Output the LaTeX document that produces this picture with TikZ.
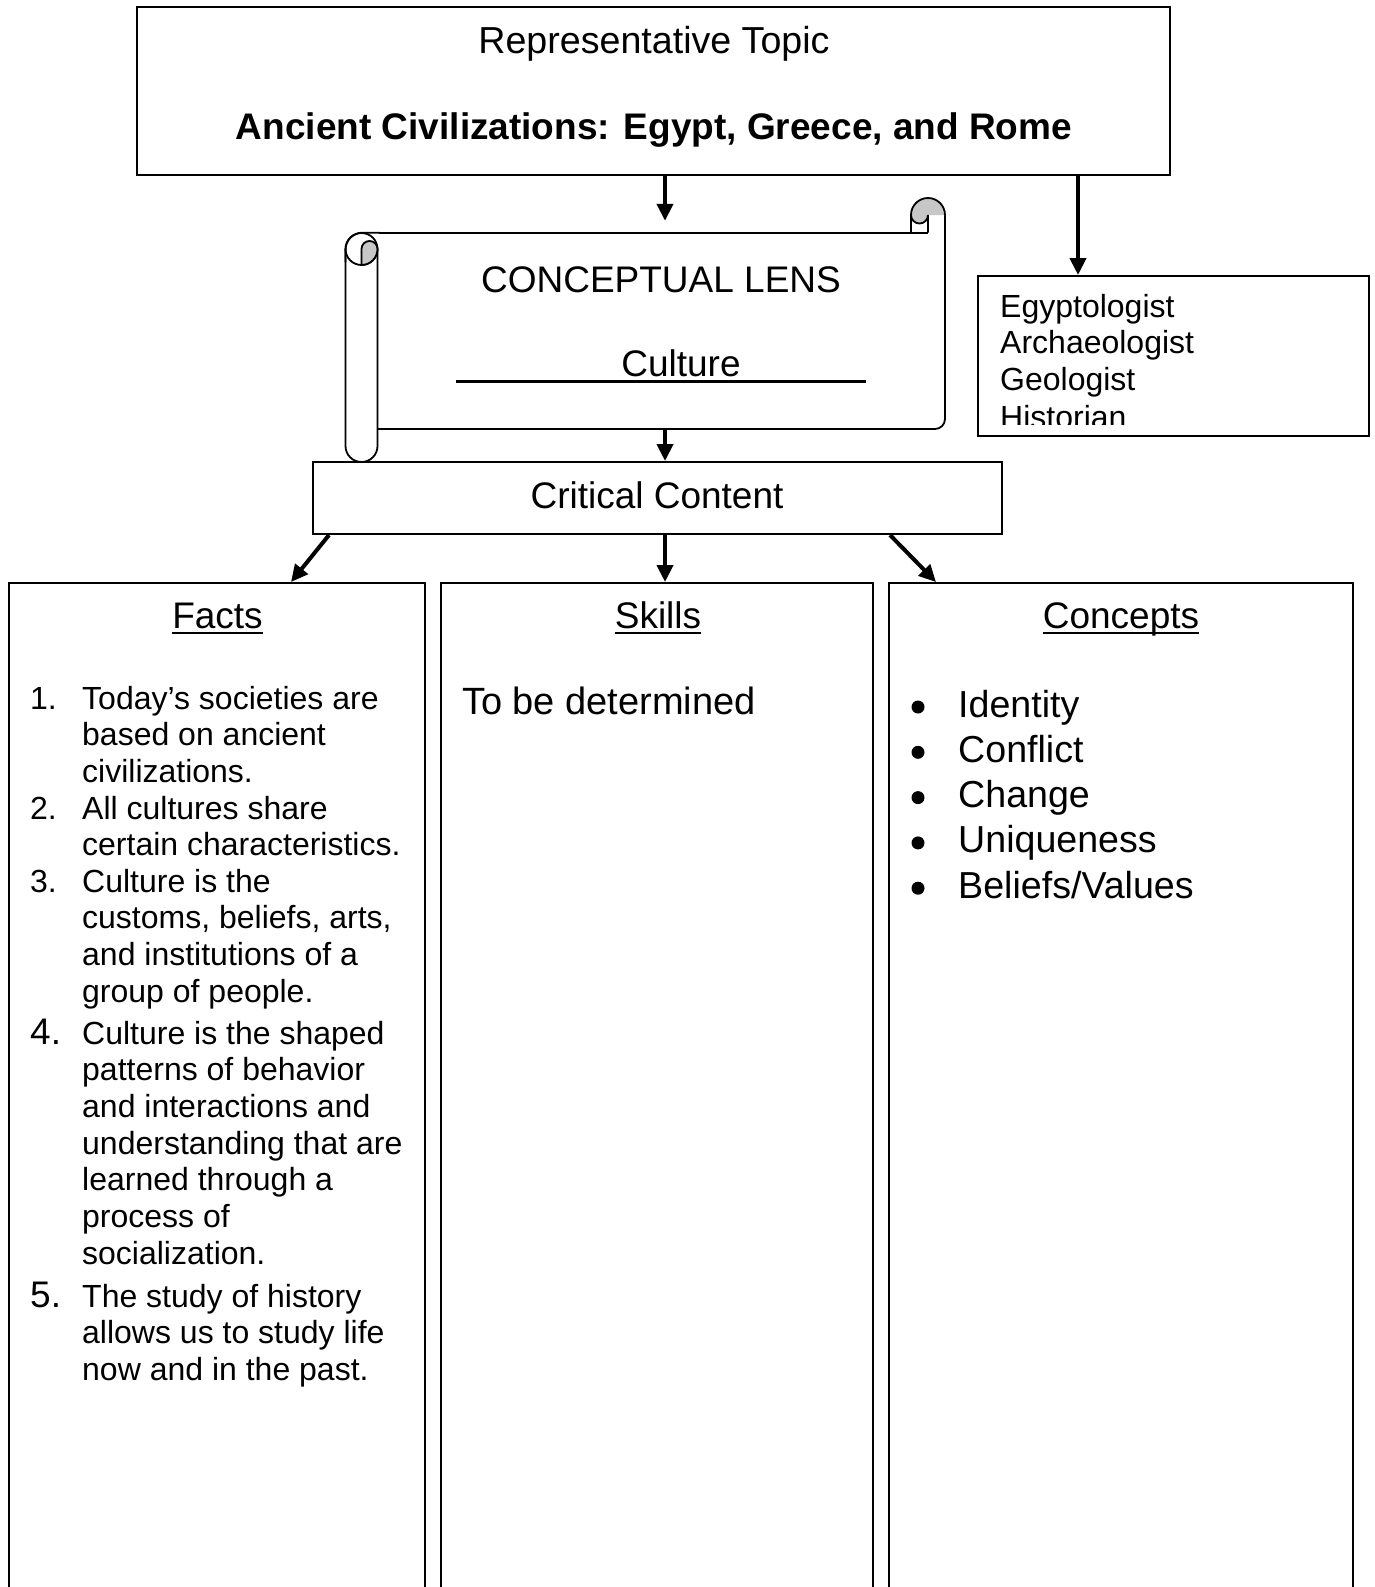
\documentclass[tikz,border=0pt]{standalone}
\usepackage{fontspec}
\setmainfont{Liberation Sans}
\usetikzlibrary{arrows.meta}
\begin{document}
\begin{tikzpicture}[x=1pt,y=-1pt,
  box/.style={draw, line width=2pt, inner sep=0pt},
  arr/.style={line width=4pt, -{Triangle[length=17pt,width=16pt]}},
  txt/.style={inner sep=0pt, anchor=base},
  ft/.style={inner sep=0pt, anchor=base west, align=left, font=\fontsize{32}{36.7}\selectfont},
  bignum/.style={inner sep=0pt, anchor=base west, font=\fontsize{37}{42}\selectfont},
  f37/.style={font=\fontsize{37}{42}\selectfont},
  f38/.style={font=\fontsize{38}{43}\selectfont},
  f32/.style={font=\fontsize{32}{36.7}\selectfont},
  scrollline/.style={line width=1.8pt},
  curl/.style={fill=black!22},
]
\useasboundingbox (0,0) rectangle (1375,1587);
\clip (0,0) rectangle (1375,1587);

% ---------- boxes ----------
\node[box, minimum width=1033pt, minimum height=168pt] (topic) at (653.5,91) {};
\node[box, minimum width=391pt, minimum height=160pt] (roles) at (1173.5,356) {};
\node[box, minimum width=689pt, minimum height=72pt] (crit) at (657.5,498) {};
\node[box, minimum width=416pt, minimum height=1040pt] (facts) at (217,1103) {};
\node[box, minimum width=432pt, minimum height=1040pt] (skills) at (657,1103) {};
\node[box, minimum width=464pt, minimum height=1040pt] (concepts) at (1121,1103) {};
% invisible frame of scroll body
\node[inner sep=0pt, minimum width=568pt, minimum height=197pt] (lens) at (661,330.5) {};

% ---------- scroll ----------
% body top edge and outer top-left corner of the roll
\draw[scrollline, rounded corners=17pt] (345.5,262) -- (345.5,232.7) -- (380,232.7);
\draw[scrollline] (379,232.7) -- (928,232.7);
% right edge and bottom edge
\draw[scrollline, rounded corners=10pt] (945,215) -- (945,429) -- (377.5,429);
% left roll sides and bottom
\draw[scrollline] (345.5,249) -- (345.5,446) arc[start angle=180, end angle=0, radius=16] -- (377.5,249);
% left roll top curl
\draw[scrollline] (361.5,249) circle[radius=16];
\filldraw[curl, scrollline] (361.5,265) -- (361.5,249) arc[start angle=180, end angle=360, radius=8]
   arc[start angle=0, end angle=90, radius=16] -- cycle;
% top right curl
\fill[curl] (911,215) arc[start angle=180, end angle=360, radius=17] -- (928,215)
   arc[start angle=0, end angle=180, radius=8.5] -- cycle;
\draw[scrollline] (911,232.7) -- (911,215) arc[start angle=180, end angle=360, radius=17];
\draw[scrollline] (928,232.7) -- (928,215) arc[start angle=0, end angle=180, radius=8.5];

% ---------- texts ----------
\node[txt, font=\fontsize{37.6}{42}\selectfont] (t1) at (654,53) {Representative Topic};
\node[txt, f37] (t2) at (654,139) {\bfseries Ancient Civilizations: Egypt, Greece, and Rome};
\node[txt, f37] (lenst) at (661,292) {CONCEPTUAL LENS};
\node[txt, f37] (cult) at (681,376) {Culture};
\draw[line width=3.2pt] (456,381.5) -- (866,381.5);
\node[txt, f37] (critt) at (657,508) {Critical Content};

\begin{scope}
\clip (978,276) rectangle (1369,424);
\node[txt, f32, anchor=base west] (r1) at (1000,317) {Egyptologist};
\node[txt, f32, anchor=base west] (r2) at (1000,353.8) {Archaeologist};
\node[txt, f32, anchor=base west] (r3) at (1000,390.6) {Geologist};
\node[txt, f32, anchor=base west] (r4) at (1000,428.4) {Historian};
\end{scope}

% headings
\node[txt, f37] (fh) at (217.5,628) {Facts};
\node[txt, f37] (sh) at (658,628) {Skills};
\node[txt, f37] (ch) at (1121,628) {Concepts};
\foreach \n in {fh,sh,ch}{
  \draw[line width=2.4pt] ([yshift=-5pt]\n.base west) -- ([yshift=-5pt]\n.base east);
}

% facts list (anchor = baseline of the last line)
\node[ft] (n1) at (30,709) {1.};
\node[ft] (i1) at (82,782.4) {Today’s societies are\\based on ancient\\civilizations.};
\node[ft] (n2) at (30,819) {2.};
\node[ft] (i2) at (82,855.7) {All cultures share\\certain characteristics.};
\node[ft] (n3) at (30,892) {3.};
\node[ft] (i3) at (82,1002.1) {Culture is the\\customs, beliefs, arts,\\and institutions of a\\group of people.};
\node[bignum] (n4) at (30,1044) {4.};
\node[ft] (i4) at (82,1264.2) {Culture is the shaped\\patterns of behavior\\and interactions and\\understanding that are\\learned through a\\process of\\socialization.};
\node[bignum] (n5) at (30,1307) {5.};
\node[ft] (i5) at (82,1380.4) {The study of history\\allows us to study life\\now and in the past.};

% skills
\node[txt, f38, anchor=base west] (tbd) at (462,714) {To be determined};

% concepts
\foreach \t/\y [count=\k] in {Identity/717, Conflict/762.3, Change/807.6, Uniqueness/852.9, Beliefs\slash Values/898.2}{
  \fill (918,\y-10) circle[radius=6.5];
  \node[txt, font=\fontsize{37.6}{42}\selectfont, anchor=base west] (c\k) at (958,\y) {\t};
}

% ---------- arrows ----------
\draw[arr] ([xshift=11.5pt]topic.south) -- ([xshift=4pt,yshift=11pt]lens.north);
\draw[arr] ([xshift=424.5pt]topic.south) -- ([xshift=-95.5pt]roles.north);
\draw[arr] ([xshift=4pt]lens.south) -- ([xshift=7.5pt]crit.north);
\draw[arr] ([xshift=17pt]crit.south west) -- ([xshift=74pt]facts.north);
\draw[arr] ([xshift=7.5pt]crit.south) -- ([xshift=8pt]skills.north);
\draw[arr] ([xshift=-113pt]crit.south east) -- ([xshift=-185pt]concepts.north);
\end{tikzpicture}
\end{document}
